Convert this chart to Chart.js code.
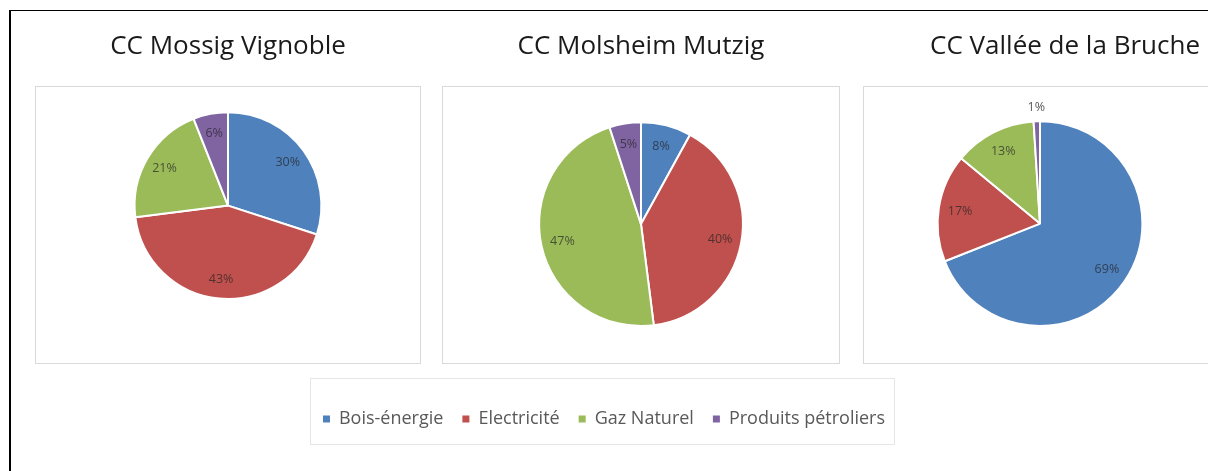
<!DOCTYPE html>
<html>
<head>
<meta charset="utf-8">
<script src="https://cdn.jsdelivr.net/npm/chart.js@4/dist/chart.umd.min.js"></script>
<style>
  html, body { margin: 0; padding: 0; background: #ffffff; }
  body { width: 1208px; height: 471px; overflow: hidden; position: relative; font-family: 'Open Sans', sans-serif; }
  .frame { position: absolute; left: 9px; top: 10px; width: 1300px; height: 500px; border-left: 2px solid #000; border-top: 1px solid #000; }
  .box { position: absolute; border: 1px solid #d9d9d9; box-sizing: border-box; }
  canvas { position: absolute; }
</style>
</head>
<body>
<div class="frame"></div>
<div class="box" style="left:35px; top:86px; width:386px; height:278px;"></div>
<div class="box" style="left:442px; top:86px; width:398px; height:278px;"></div>
<div class="box" style="left:863px; top:86px; width:400px; height:278px;"></div>
<div class="box" style="left:310px; top:378px; width:585px; height:67px; border-color:#e6e6e6;"></div>

<canvas id="c1" width="386" height="344" style="left:35px; top:20px;"></canvas>
<canvas id="c2" width="398" height="344" style="left:442px; top:20px;"></canvas>
<canvas id="c3" width="400" height="344" style="left:863px; top:20px;"></canvas>
<canvas id="cl" width="760" height="90" style="left:224px; top:378px;"></canvas>

<script>
// ---- Data ----
const categories = ['Bois-énergie', 'Electricité', 'Gaz Naturel', 'Produits pétroliers'];
const titles = ['CC Mossig Vignoble', 'CC Molsheim Mutzig', 'CC Vallée de la Bruche'];
const mossigValues = [30, 43, 21, 6];
const molsheimValues = [8, 40, 47, 5];
const valleeValues = [69, 17, 13, 1];
const colors = ['#4F81BD', '#C0504D', '#9BBB59', '#8064A2'];

// ---- Percent labels plugin ----
const pctLabels = {
  id: 'pctLabels',
  afterDatasetsDraw(chart) {
    const meta = chart.getDatasetMeta(0);
    const values = chart.data.datasets[0].data;
    const ctx = chart.ctx;
    ctx.save();
    ctx.font = '12.5px "Open Sans"';
    ctx.textAlign = 'center';
    ctx.textBaseline = 'middle';
    meta.data.forEach((arc, i) => {
      const p = arc.getProps(['x', 'y', 'startAngle', 'endAngle', 'outerRadius'], true);
      const mid = (p.startAngle + p.endAngle) / 2;
      const v = values[i];
      let r, col;
      if (v < 3) { r = p.outerRadius + 14; col = 'rgba(70,70,70,0.9)'; }
      else { r = p.outerRadius * 0.79; col = 'rgba(35,35,35,0.7)'; }
      ctx.fillStyle = col;
      ctx.fillText(v + '%', p.x + Math.cos(mid) * r, p.y + Math.sin(mid) * r);
    });
    ctx.restore();
  }
};

function makePie(id, title, values, opts) {
  return new Chart(document.getElementById(id), {
    type: 'pie',
    data: {
      labels: categories,
      datasets: [{
        data: values,
        backgroundColor: colors,
        borderColor: '#ffffff',
        borderWidth: 2,
        hoverOffset: 0,
        hoverBorderWidth: 2
      }]
    },
    options: {
      responsive: false,
      animation: false,
      events: [],
      layout: { padding: opts.padding },
      plugins: {
        legend: { display: false },
        tooltip: { enabled: false },
        title: {
          display: true,
          text: title,
          align: opts.align || 'center',
          color: '#1a1a1a',
          font: { family: 'Open Sans', size: 26, weight: 'normal', lineHeight: 1.2 },
          padding: { top: opts.titleTop, bottom: opts.titleBottom }
        }
      }
    },
    plugins: [pctLabels]
  });
}

makePie('c1', titles[0], mossigValues, { padding: { left: 0, right: 0, top: 0, bottom: 64 }, titleTop: 11, titleBottom: 49 });
makePie('c2', titles[1], molsheimValues, { padding: { left: 0, right: 0, top: 0, bottom: 37 }, titleTop: 11, titleBottom: 59 });
makePie('c3', titles[2], valleeValues, { padding: { left: 17, right: 63, top: 0, bottom: 37 }, titleTop: 11, titleBottom: 58, align: 'end' });

// ---- Shared legend ----
new Chart(document.getElementById('cl'), {
  type: 'pie',
  data: {
    labels: categories,
    datasets: [{ data: molsheimValues, backgroundColor: colors, borderWidth: 0, circumference: 0 }]
  },
  options: {
    responsive: false,
    animation: false,
    events: [],
    layout: { padding: { top: 13 } },
    plugins: {
      tooltip: { enabled: false },
      legend: {
        display: true,
        position: 'top',
        align: 'center',
        labels: {
          boxWidth: 7,
          boxHeight: 7,
          padding: 19,
          color: '#595959',
          font: { family: 'Open Sans', size: 18 },
          generateLabels(chart) {
            return Chart.overrides.pie.plugins.legend.labels.generateLabels(chart).map(l => Object.assign(l, { lineWidth: 0, hidden: false }));
          }
        }
      }
    }
  }
});
</script>
</body>
</html>
